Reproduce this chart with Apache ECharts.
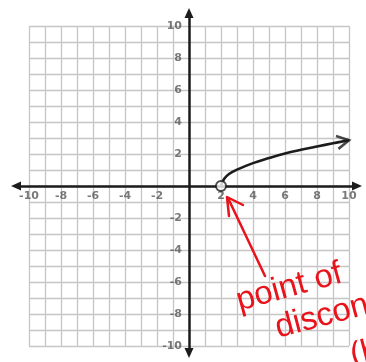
<!DOCTYPE html>
<html>
<head>
<meta charset="utf-8">
<script src="https://cdn.jsdelivr.net/npm/echarts@6/dist/echarts.min.js"></script>
<style>
  html, body { margin: 0; padding: 0; background: #ffffff; }
  #chart { width: 366px; height: 362px; }
</style>
</head>
<body>
<div id="chart"></div>
<script>
// Square-root style curve starting at an open point on the x-axis
const curveX = [2, 2.2, 2.5, 3, 4, 5, 6, 7, 8, 9, 10];
const curveY = [0, 0.45, 0.75, 1.02, 1.43, 1.75, 2.03, 2.26, 2.47, 2.67, 2.86];

// Open (excluded) starting point
const openPoint = [2, 0];

// Axis tick labels
const xTickLabels = [-10, -8, -6, -4, -2, 2, 4, 6, 8, 10];
const yTickLabels = [-10, -8, -6, -4, -2, 2, 4, 6, 8, 10];

// Handwritten note
const noteLines = ['point of', 'discontinuity', '(hole)'];

const chart = echarts.init(document.getElementById('chart'), null, { renderer: 'canvas' });

const curveData = curveX.map((x, i) => [x, curveY[i]]);
const n = curveData.length;
const dx = curveData[n - 1][0] - curveData[n - 2][0];
const dy = curveData[n - 1][1] - curveData[n - 2][1];
const endAngle = Math.atan2(dy, dx);
const headLen = 6;

const ink = '#1c1c1c';
const gridColor = '#c6c6c6';
const labelFont = {
  color: '#585858',
  fontSize: 11,
  fontWeight: 'bold',
  fontFamily: 'DejaVu Sans'
};
const red = '#e8131b';

// tick labels drawn as invisible points sitting on the axes
const xLabelData = xTickLabels.map(v => [v, 0]);
const yLabelData = yTickLabels.map(v => [0, v]);

const option = {
  backgroundColor: '#ffffff',
  animation: false,
  grid: [
    { left: 29, top: 26, width: 320, height: 320, outerBoundsMode: 'none', containLabel: false },
    { left: 16, top: 13, width: 341, height: 340, outerBoundsMode: 'none', containLabel: false }
  ],
  xAxis: [
    {
      // fine square grid
      type: 'value', gridIndex: 0, min: -10, max: 10, interval: 1,
      axisLine: { show: false },
      axisTick: { show: false },
      axisLabel: { show: false },
      splitLine: { show: true, lineStyle: { color: gridColor, width: 1.3 } }
    },
    {
      // main x-axis with arrows
      type: 'value', gridIndex: 1, min: -10.8125, max: 10.5,
      axisLine: {
        show: true, onZero: true,
        symbol: ['triangle', 'triangle'], symbolSize: [9, 10],
        lineStyle: { color: ink, width: 2.5 }
      },
      axisTick: { show: false },
      axisLabel: { show: false },
      splitLine: { show: false }
    }
  ],
  yAxis: [
    {
      type: 'value', gridIndex: 0, min: -10, max: 10, interval: 1,
      axisLine: { show: false },
      axisTick: { show: false },
      axisLabel: { show: false },
      splitLine: { show: true, lineStyle: { color: gridColor, width: 1.3 } }
    },
    {
      type: 'value', gridIndex: 1, min: -10.4375, max: 10.8125,
      axisLine: {
        show: true, onZero: true,
        symbol: ['triangle', 'triangle'], symbolSize: [9, 10],
        lineStyle: { color: ink, width: 2.5 }
      },
      axisTick: { show: false },
      axisLabel: { show: false },
      splitLine: { show: false }
    }
  ],
  series: [
    {
      type: 'line', xAxisIndex: 0, yAxisIndex: 0,
      data: curveData, smooth: 0.45, showSymbol: false,
      lineStyle: { color: ink, width: 2.6 }, z: 3
    },
    {
      // open chevron at the curve's end
      type: 'scatter', xAxisIndex: 0, yAxisIndex: 0,
      data: [curveData[n - 1]],
      symbol: 'path://M0,0L12,6L0,12',
      symbolSize: [12, 13],
      symbolRotate: endAngle * 180 / Math.PI,
      symbolOffset: [-headLen * Math.cos(endAngle), headLen * Math.sin(endAngle)],
      itemStyle: { color: 'rgba(0,0,0,0)', borderColor: ink, borderWidth: 2.5 },
      z: 4
    },
    {
      type: 'scatter', xAxisIndex: 0, yAxisIndex: 0,
      data: [openPoint], symbol: 'circle', symbolSize: 10,
      itemStyle: { color: '#ffffff', borderColor: ink, borderWidth: 2 },
      z: 5
    },
    {
      // x tick labels
      type: 'scatter', xAxisIndex: 0, yAxisIndex: 0,
      data: xLabelData, symbolSize: 0, silent: true, z: 2,
      label: Object.assign({
        show: true, position: 'bottom', distance: 5,
        formatter: p => String(p.value[0])
      }, labelFont)
    },
    {
      // y tick labels
      type: 'scatter', xAxisIndex: 0, yAxisIndex: 0,
      data: yLabelData, symbolSize: 0, silent: true, z: 2,
      label: Object.assign({
        show: true, position: 'left', distance: 7,
        formatter: p => String(p.value[1])
      }, labelFont)
    }
  ],
  graphic: [
    {
      type: 'polyline', z: 100,
      shape: { points: [[265, 276], [228, 198]] },
      style: { stroke: red, lineWidth: 2.5, fill: null, lineCap: 'round' }
    },
    {
      type: 'polyline', z: 100,
      shape: { points: [[243, 205], [227, 197], [229, 216]] },
      style: { stroke: red, lineWidth: 2.5, fill: null, lineCap: 'round', lineJoin: 'round' }
    },
    {
      type: 'text', z: 100, x: 237, y: 302, rotation: 0.27,
      style: { text: noteLines[0], fill: red, font: '33px "Liberation Sans"', verticalAlign: 'middle', align: 'left' }
    },
    {
      type: 'text', z: 100, x: 276, y: 329, rotation: 0.26,
      style: { text: noteLines[1], fill: red, font: '33px "Liberation Sans"', verticalAlign: 'middle', align: 'left' }
    },
    {
      type: 'text', z: 100, x: 351, y: 357, rotation: 0.26,
      style: { text: noteLines[2], fill: red, font: '33px "Liberation Sans"', verticalAlign: 'middle', align: 'left' }
    }
  ]
};

chart.setOption(option);
</script>
</body>
</html>
